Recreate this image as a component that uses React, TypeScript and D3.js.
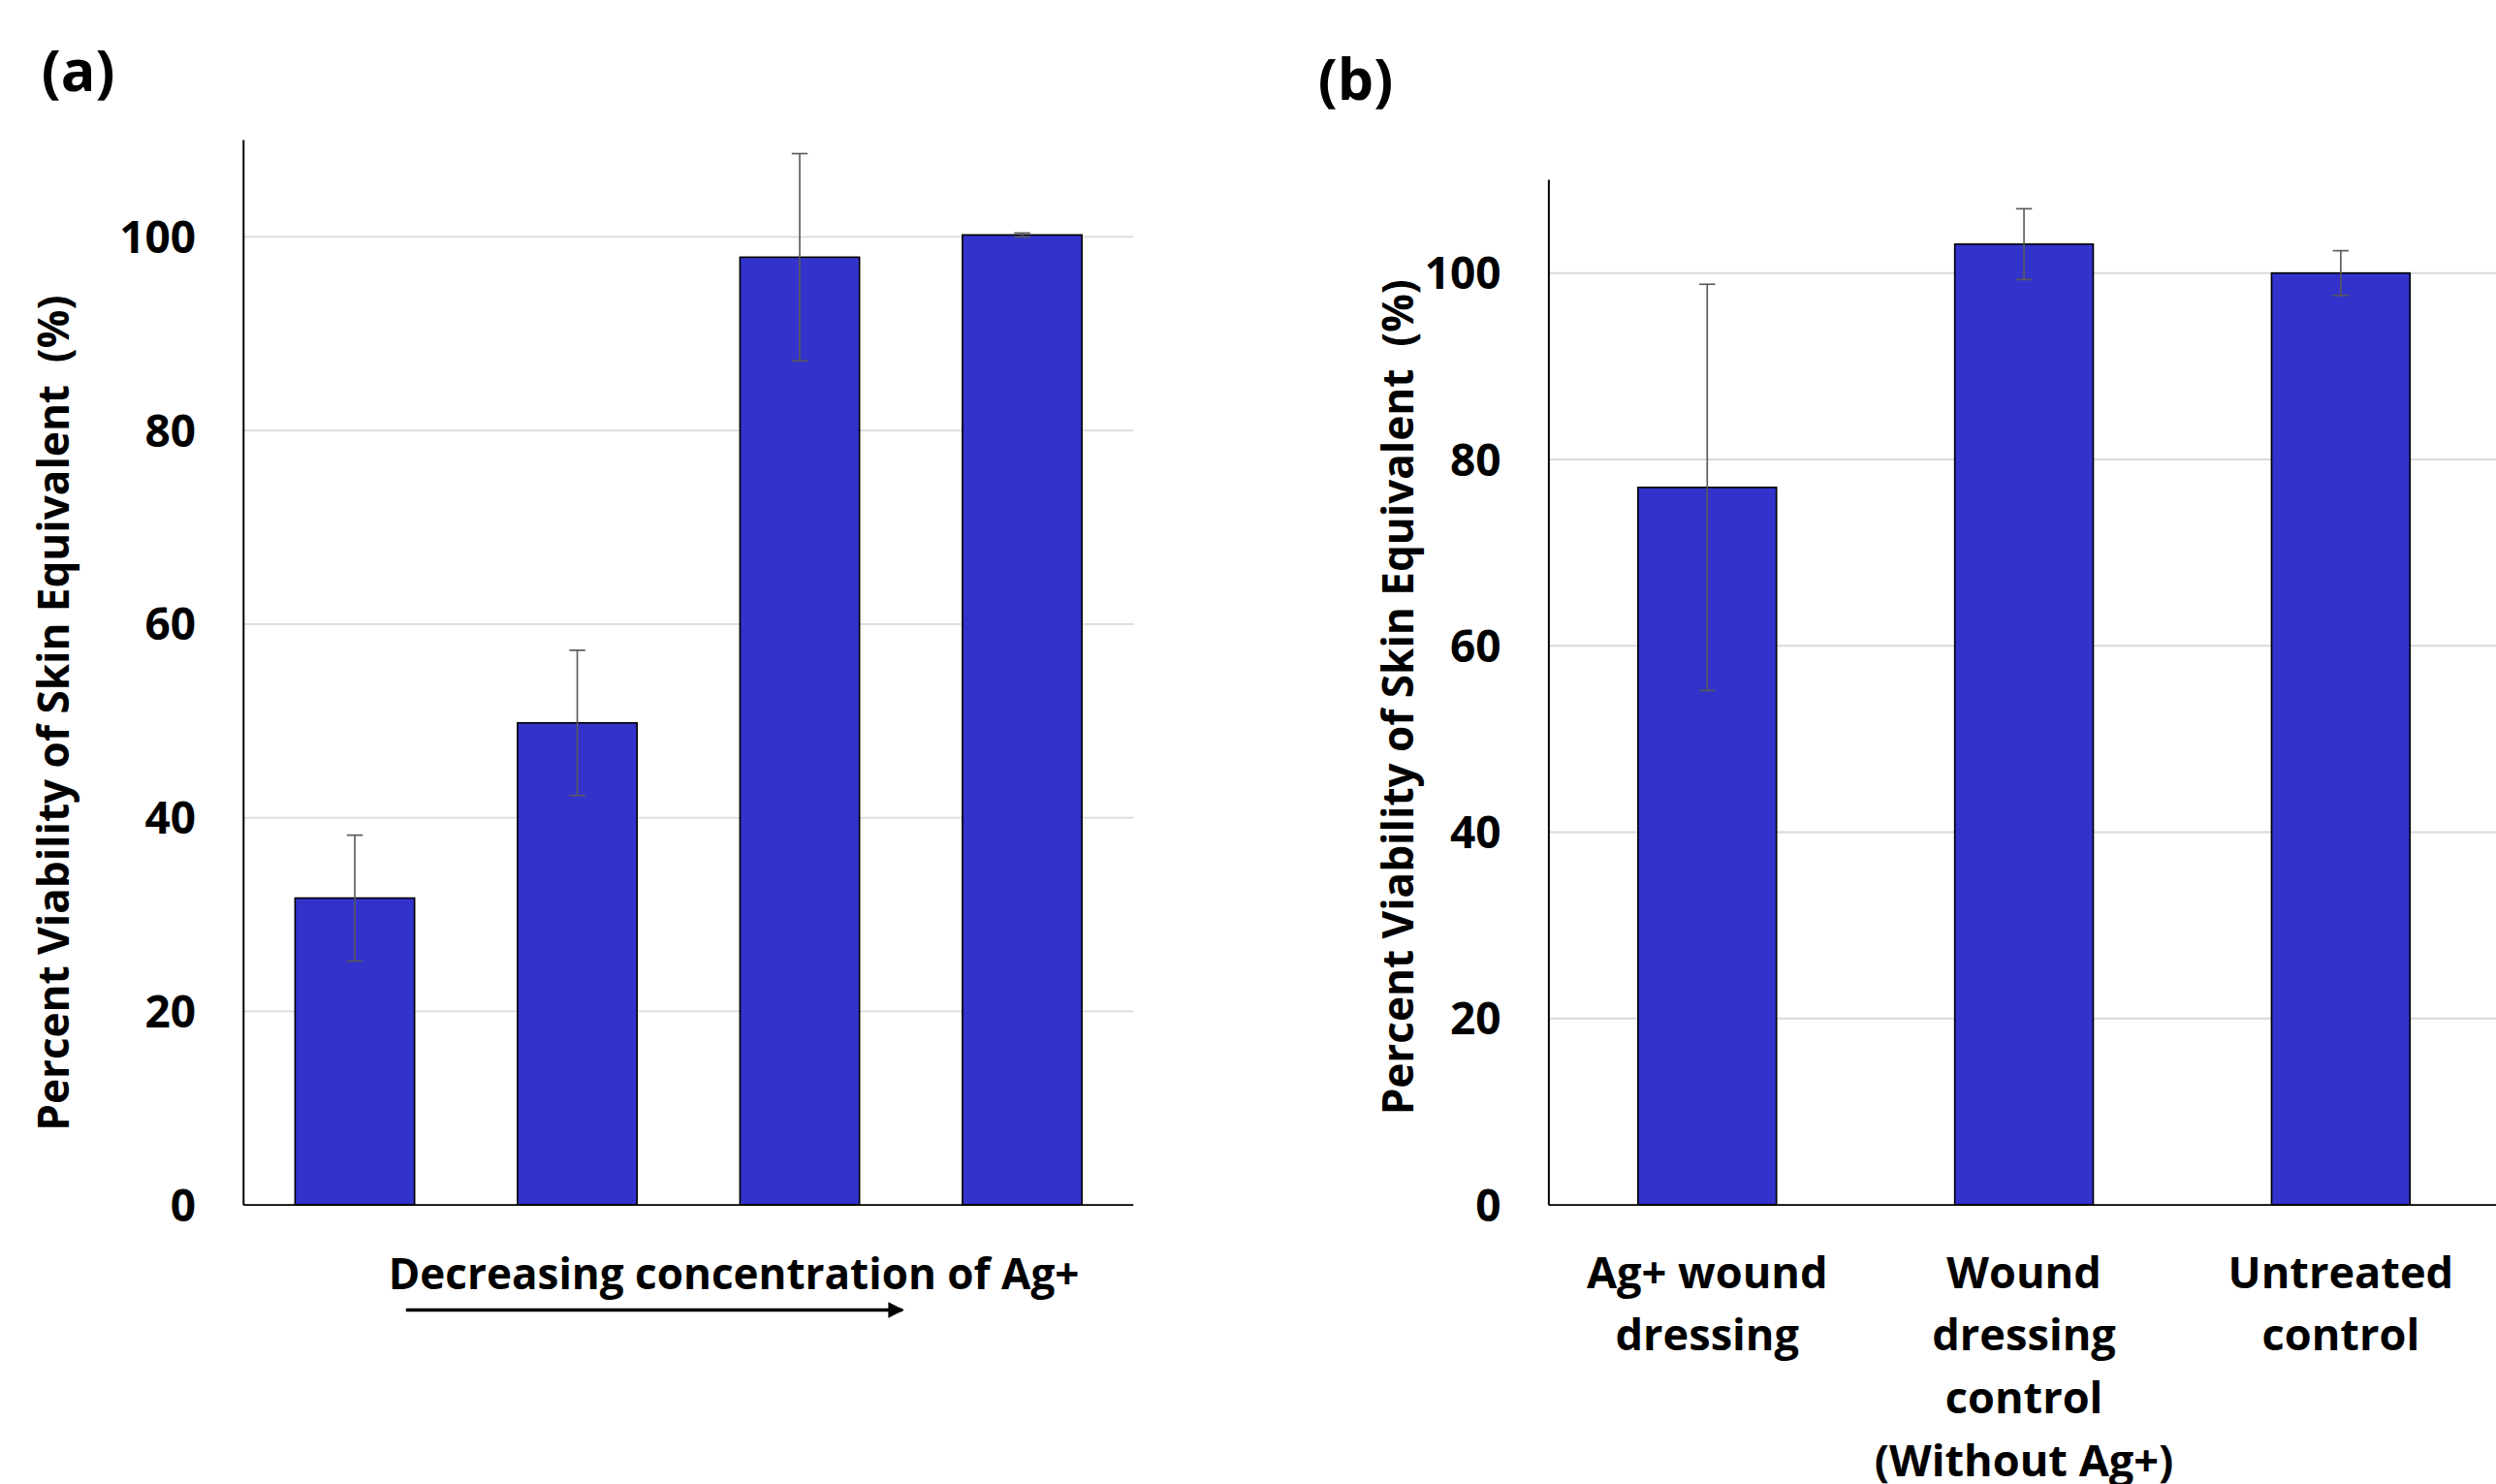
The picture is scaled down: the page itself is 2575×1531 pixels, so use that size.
import React from "react";
import * as d3 from "d3";

const W = 1568;
const H = 932.3;

const catsA = ["c1", "c2", "c3", "c4"];
const valsA = [31.7, 49.8, 97.9, 100.2];
const errA = [6.5, 7.5, 10.7, 0.2];

const catsB = [
  ["Ag+ wound", "dressing"],
  ["Wound", "dressing", "control", "(Without Ag+)"],
  ["Untreated", "control"],
];
const valsB = [77.0, 103.1, 100.0];
const errB = [21.8, 3.8, 2.4];

const yTicks = [0, 20, 40, 60, 80, 100];
const yMax = 110;

const FONT = "'Open Sans', Lato, sans-serif";
const BAR = "#3333CC";

type PanelProps = {
  left: number;
  right: number;
  top: number;
  bottom: number;
  keys: string[];
  values: number[];
  errs: number[];
  padInner: number;
  labels?: string[][];
  titleX: number;
  titleY: number;
};

function Panel(p: PanelProps) {
  const x = d3.scaleBand<string>().domain(p.keys).range([p.left, p.right]).paddingInner(p.padInner).paddingOuter(p.padInner / 2);
  const y = d3.scaleLinear().domain([0, yMax]).range([p.bottom, p.top]);
  const cap = 5;
  return (
    <g>
      {yTicks.filter((t) => t > 0).map((t) => (
        <line key={t} x1={p.left} x2={p.right} y1={y(t)} y2={y(t)} stroke="#d9d9d9" strokeWidth={1.2} />
      ))}
      {p.keys.map((k, i) => (
        <rect key={k} x={x(k)} y={y(p.values[i])} width={x.bandwidth()} height={y(0) - y(p.values[i])} fill={BAR} stroke="#000" strokeWidth={1} />
      ))}
      {p.keys.map((k, i) => {
        const cx = (x(k) as number) + x.bandwidth() / 2;
        const hi = y(p.values[i] + p.errs[i]);
        const lo = y(p.values[i] - p.errs[i]);
        return (
          <g key={k} stroke="#595959" strokeWidth={1}>
            <line x1={cx} x2={cx} y1={hi} y2={lo} />
            <line x1={cx - cap} x2={cx + cap} y1={hi} y2={hi} />
            <line x1={cx - cap} x2={cx + cap} y1={lo} y2={lo} />
          </g>
        );
      })}
      <line x1={p.left} x2={p.left} y1={p.top} y2={p.bottom} stroke="#000" strokeWidth={1.2} />
      <line x1={p.left} x2={p.right} y1={p.bottom} y2={p.bottom} stroke="#000" strokeWidth={1.2} />
      {yTicks.map((t) => (
        <text key={t} x={p.left - 30} y={y(t)} dy="0.36em" textAnchor="end" fontFamily={FONT} fontWeight={700} fontSize={28} fill="#000">
          {t}
        </text>
      ))}
      <text
        transform={`translate(${p.titleX},${p.titleY}) rotate(-90)`}
        textAnchor="middle"
        dy="0.36em"
        fontFamily={FONT}
        fontWeight={700}
        fontSize={27}
        fill="#000"
        textLength={525}
        lengthAdjust="spacingAndGlyphs"
        style={{ whiteSpace: "pre" }}
      >
        {"Percent Viability of Skin Equivalent  (%)"}
      </text>
      {p.labels &&
        p.keys.map((k, i) => {
          const cx = (x(k) as number) + x.bandwidth() / 2;
          return (
            <text key={k} x={cx} y={p.bottom + 52} textAnchor="middle" fontFamily={FONT} fontWeight={700} fontSize={27.5} fill="#000">
              {p.labels![i].map((ln, j) => (
                <tspan key={j} x={cx} dy={j === 0 ? 0 : 39.5}>
                  {ln}
                </tspan>
              ))}
            </text>
          );
        })}
    </g>
  );
}

export default function App() {
  const keysB = catsB.map((c) => c.join(" "));
  return (
    <svg
      width={2575}
      height={1531}
      viewBox={`0 0 ${W} ${H}`}
      style={{ position: "absolute", left: 0, top: 0, background: "#fff" }}
    >
      <rect x={0} y={0} width={W} height={H} fill="#fff" />
      <defs>
        <marker id="arr" viewBox="0 0 10 10" refX="9" refY="5" markerWidth="11" markerHeight="10" orient="auto" markerUnits="userSpaceOnUse">
          <path d="M0,0 L10,5 L0,10 z" fill="#000" />
        </marker>
      </defs>
      <text x={26} y={57} fontFamily={FONT} fontWeight={700} fontSize={36} fill="#000">(a)</text>
      <text x={828} y={63} fontFamily={FONT} fontWeight={700} fontSize={36} fill="#000">(b)</text>
      <Panel left={153} right={712} top={88} bottom={757} keys={catsA} values={valsA} errs={errA} padInner={0.463} titleX={33.5} titleY={448} />
      <Panel left={973} right={1570} top={113} bottom={757} keys={keysB} values={valsB} errs={errB} padInner={0.563} labels={catsB} titleX={878} titleY={438} />
      <text x={461} y={810} textAnchor="middle" fontFamily={FONT} fontWeight={700} fontSize={27} fill="#000" textLength={434} lengthAdjust="spacingAndGlyphs">
        Decreasing concentration of Ag+
      </text>
      <line x1={255} x2={567} y1={823} y2={823} stroke="#000" strokeWidth={2} markerEnd="url(#arr)" />
    </svg>
  );
}
